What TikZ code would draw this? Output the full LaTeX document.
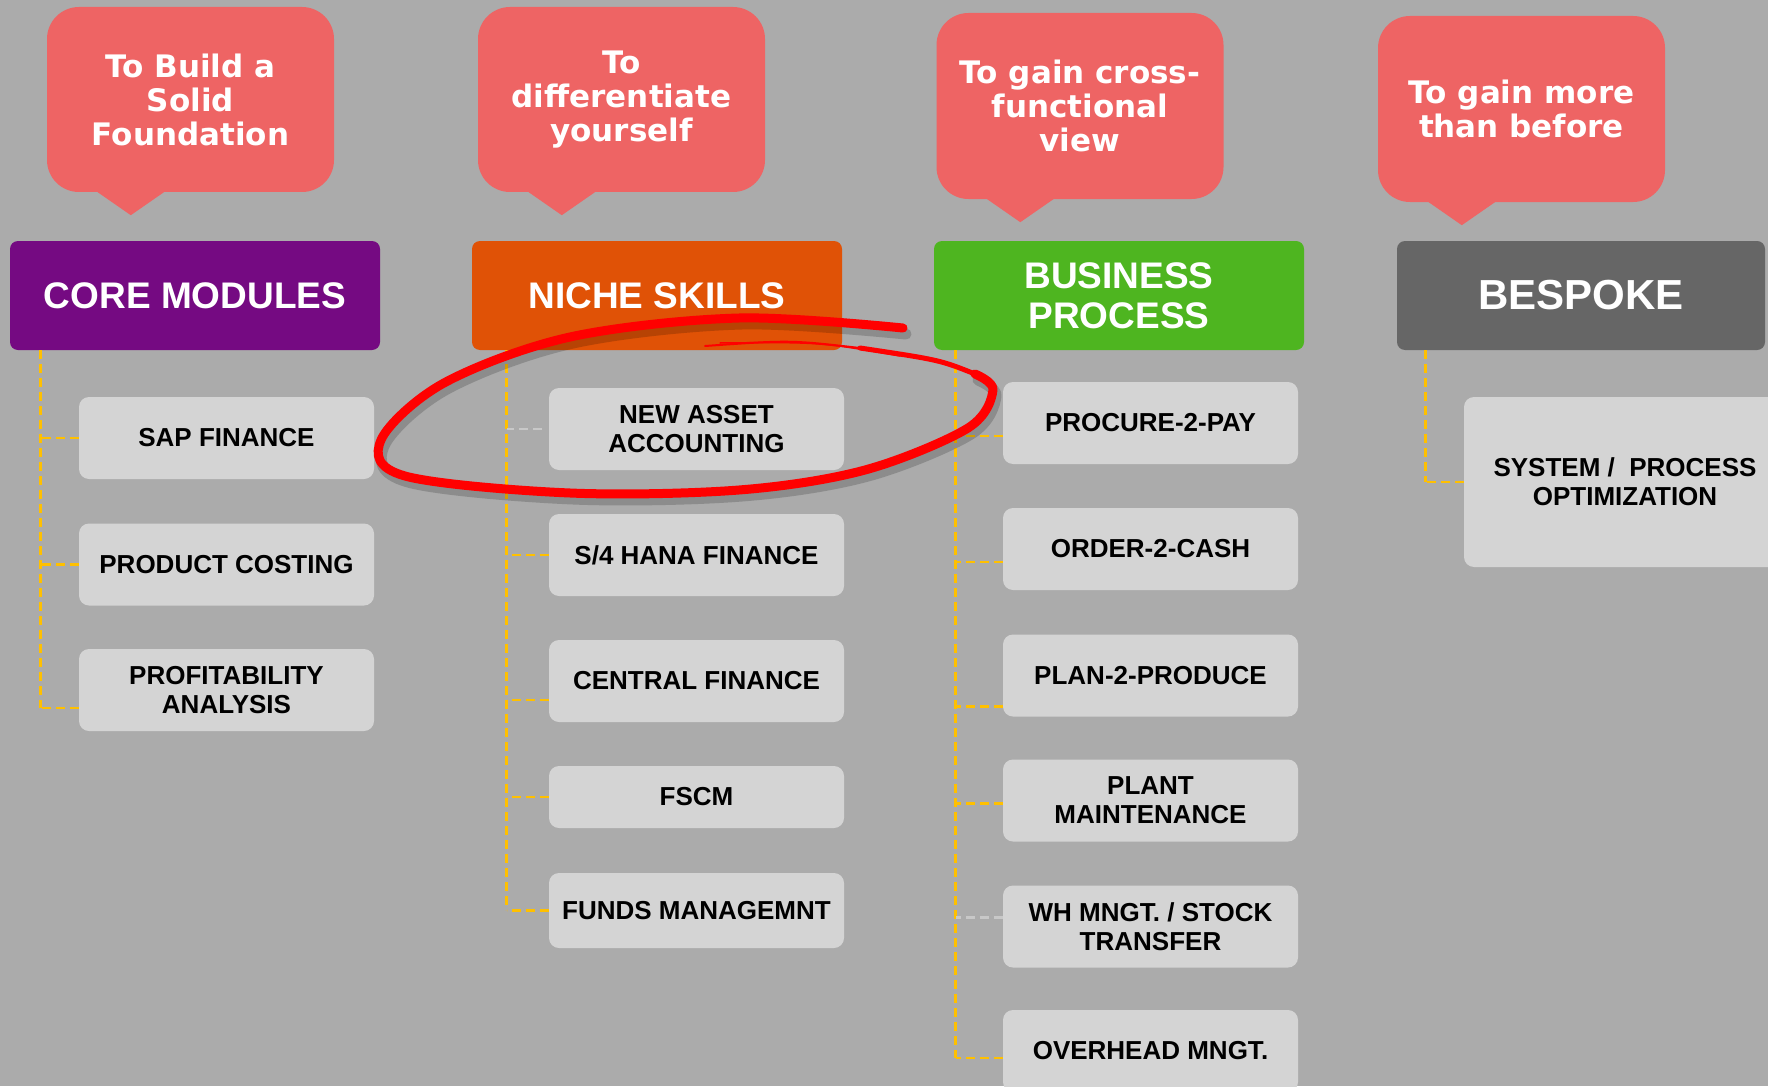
\documentclass[tikz,border=0pt]{standalone}
\usepackage{fontspec}
\setmainfont{Liberation Sans}
\newfontfamily\callfont{DejaVu Sans}
\usetikzlibrary{calc}

\definecolor{bggray}{HTML}{ABABAB}
\definecolor{salmon}{HTML}{EE6464}
\definecolor{corepurple}{HTML}{750A82}
\definecolor{nicheorange}{HTML}{E05206}
\definecolor{bizgreen}{HTML}{4EB520}
\definecolor{bespokegray}{HTML}{666666}
\definecolor{itemgray}{HTML}{D4D4D4}
\definecolor{linkyellow}{HTML}{FFC000}
\definecolor{linkgray}{HTML}{C8C8C8}

\tikzset{
  bubble/.style={fill=salmon, rounded corners=32pt, minimum width=287pt, minimum height=185pt, inner sep=0pt,
    text=white, align=center, font=\callfont\bfseries\fontsize{31}{34}\selectfont},
  head/.style={rounded corners=8pt, minimum width=370pt, minimum height=109pt, inner sep=0pt,
    text=white, align=center, font=\bfseries\fontsize{37}{40}\selectfont},
  item/.style={fill=itemgray, rounded corners=10pt, minimum width=295pt, minimum height=82pt, inner sep=0pt,
    align=center, font=\bfseries\fontsize{26}{29}\selectfont},
  link/.style={linkyellow, line width=2.8pt, dash pattern=on 9pt off 5pt},
  graylink/.style={link, linkgray}
}

\begin{document}
\begin{tikzpicture}[x=1pt, y=-1pt]
\useasboundingbox (0,0) rectangle (1768,1086);
\clip (0,0) rectangle (1768,1086);
\fill[bggray] (0,0) rectangle (1768,1086);

\node[bubble] (c1) at (190.5,99.5) {To Build a\\Solid\\Foundation};
\node[bubble] (c2) at (621.5,99.5) {To\\differentiate\\yourself};
\node[bubble, minimum height=186pt] (c3) at (1080,106) {To gain cross-\\functional\\view};
\node[bubble, minimum height=186pt] (c4) at (1521.5,109) {To gain more\\than before};
\fill[salmon] ($(c1.south west)+(48,-2)$) -- ($(c1.south west)+(84,23)$) -- ($(c1.south west)+(120,-2)$) -- cycle;
\fill[salmon] ($(c2.south west)+(48,-2)$) -- ($(c2.south west)+(84,23)$) -- ($(c2.south west)+(120,-2)$) -- cycle;
\fill[salmon] ($(c3.south west)+(48,-2)$) -- ($(c3.south west)+(84,23)$) -- ($(c3.south west)+(120,-2)$) -- cycle;
\fill[salmon] ($(c4.south west)+(48,-2)$) -- ($(c4.south west)+(84,23)$) -- ($(c4.south west)+(120,-2)$) -- cycle;

\node[head, fill=corepurple] (core) at (195,295.5) {CORE MODULES};
\node[head, fill=nicheorange] (niche) at (657,295.5) {NICHE SKILLS};
\node[head, fill=bizgreen] (biz) at (1119,295.5) {BUSINESS\\PROCESS};
\node[head, fill=bespokegray, minimum width=368pt, font=\bfseries\fontsize{42}{46}\selectfont] (bespoke) at (1581,295.5) {BESPOKE};

\draw[link] ([xshift=31pt]core.south west) -- ++(0,358);
\draw[link] ([xshift=35pt]niche.south west) -- ++(0,560);
\draw[link] ([xshift=22pt]biz.south west) -- ++(0,708);
\draw[link] ([xshift=29pt]bespoke.south west) -- ++(0,132);

\node[item] (sap) at (226.5,438) {SAP FINANCE};
\node[item] (pc) at (226.5,564.5) {PRODUCT COSTING};
\node[item] (pa) at (226.5,690) {PROFITABILITY\\ANALYSIS};

\node[item] (naa) at (696.5,429) {NEW ASSET\\ACCOUNTING};
\node[item] (s4) at (696.5,555) {S/4 HANA FINANCE};
\node[item] (cf) at (696.5,681) {CENTRAL FINANCE};
\node[item, minimum height=62pt] (fscm) at (696.5,797) {FSCM};
\node[item, minimum height=75pt] (fm) at (696.5,910.5) {FUNDS MANAGEMNT};

\node[item] (p2p) at (1150.5,423) {PROCURE-2-PAY};
\node[item] (o2c) at (1150.5,549) {ORDER-2-CASH};
\node[item] (plan) at (1150.5,675.5) {PLAN-2-PRODUCE};
\node[item] (pm) at (1150.5,800.5) {PLANT\\MAINTENANCE};
\node[item] (wh) at (1150.5,926.5) {WH MNGT. / STOCK\\TRANSFER};
\node[item] (ovh) at (1150.5,1051) {OVERHEAD MNGT.};

\node[item, minimum width=322pt, minimum height=170pt] (sys) at (1625,482) {SYSTEM /\ \ PROCESS\\OPTIMIZATION};

\draw[link] (sap.west) -- ++(-38,0);
\draw[link] (pc.west) -- ++(-38,0);
\draw[link] ([yshift=-18pt]pa.west) -- ++(-38,0);
\draw[graylink] ([xshift=-7pt]naa.west) -- ++(-35,0);
\draw[link] (s4.west) -- ++(-42,0);
\draw[link] ([yshift=-19pt]cf.west) -- ++(-42,0);
\draw[link] (fscm.west) -- ++(-42,0);
\draw[link] (fm.west) -- ++(-42,0);
\draw[link] ([yshift=-13pt]p2p.west) -- ++(-47,0);
\draw[link] ([yshift=-13pt]o2c.west) -- ++(-47,0);
\draw[link] ([yshift=-31pt]plan.west) -- ++(-47,0);
\draw[link] ([yshift=-3pt]pm.west) -- ++(-47,0);
\draw[graylink] ([yshift=9pt]wh.west) -- ++(-47,0);
\draw[link] ([yshift=-7pt]ovh.west) -- ++(-47,0);
\draw[link] (sys.west) -- ++(-38,0);

\draw[black, opacity=0.18, line width=11pt, line cap=round, line join=round, shift={(3,6)}]
  plot[smooth, tension=0.55] coordinates {(903,328) (739,318) (570,337) (444,383) (381,440) (405,476) (570,493) (739,490) (865,470) (968,428) (993,390) (975,374)};
\draw[red, line width=9pt, line cap=round, line join=round]
  plot[smooth, tension=0.55] coordinates {(903,328) (739,318) (570,337) (444,383) (381,440) (405,476) (570,493) (739,490) (865,470) (968,428) (993,390) (975,374)};
\draw[red, line width=5pt, line cap=round] (975,374) .. controls (940,360) .. (860,348);
\draw[red, line width=2pt, line cap=round] (860,348) .. controls (790,340) .. (705,346);
\draw[red, line width=1.5pt, line cap=round] (900,356) .. controls (820,342) .. (720,343);
\end{tikzpicture}
\end{document}
